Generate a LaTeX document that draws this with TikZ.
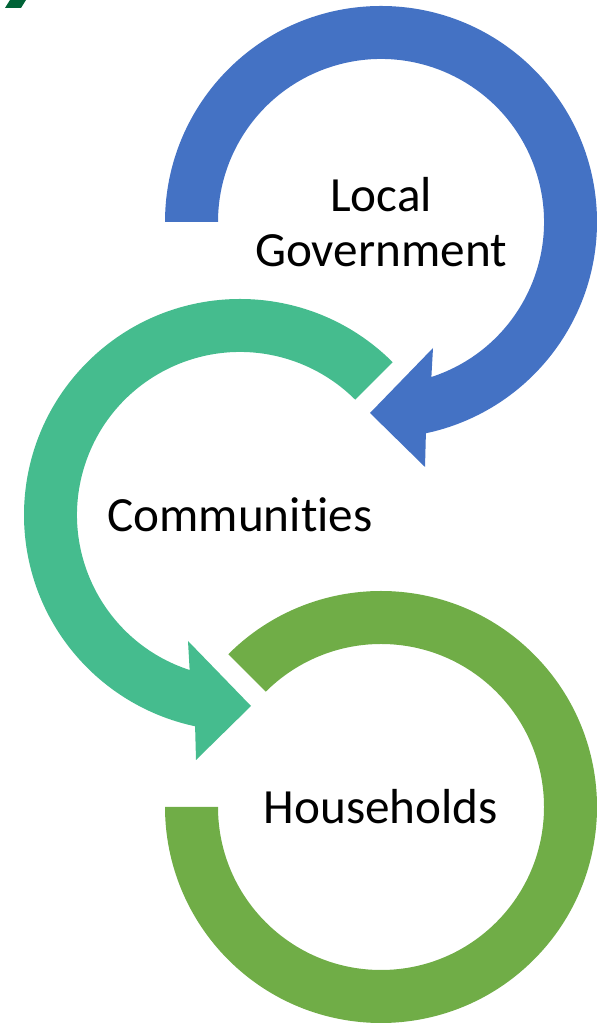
\documentclass[tikz,border=0pt]{standalone}
\usepackage{fontspec}
\setmainfont[Ligatures = NoCommon]{Carlito}
\definecolor{mblue}{RGB}{68,114,196}
\definecolor{mteal}{RGB}{69,188,142}
\definecolor{mlime}{RGB}{112,173,71}
\definecolor{mdark}{RGB}{0,99,55}
\tikzset{ringtext/.style = {font = \fontsize{28}{31.7}\selectfont, align = center}}

\begin{document}
\begin{tikzpicture}[x = 0.02cm, y = 0.02cm]
    \useasboundingbox (0, 0) rectangle (597, 1023);

    \fill [mdark] (10, 1023) -- (26, 1023) -- (21, 1015) -- (5, 1015) -- cycle;

    \coordinate (gov) at (381, 801);
    \coordinate (com) at (240, 508);
    \coordinate (hh) at (381, 216);

    \begin{scope}[shift = {(gov)}]
      \fill [mblue] (180:216) arc(180:-78:216) -- (44, -245) -- (-11, -191)
        -- (52, -126) -- (-72:163) arc(-72:180:163) -- cycle;
    \end{scope}

    \begin{scope}[shift = {(com)}, xscale = -1]
      \fill [mteal] (135:216) arc(135:-78:216) -- (44, -245) -- (-11, -191)
        -- (52, -126) -- (-72:163) arc(-72:135:163) -- cycle;
    \end{scope}

    \begin{scope}[shift = {(hh)}]
      \fill [mlime] (135:216) arc(135:-180:216) -- (180:163) arc(-180:135:163) -- cycle;
    \end{scope}

    \node [ringtext] (govtext) at (gov) {Local\\Government};
    \node [ringtext] (comtext) at (com) {Communit\kern0pt ies};
    \node [ringtext] (hhtext) at (hh) {Households};
\end{tikzpicture}
\end{document}
